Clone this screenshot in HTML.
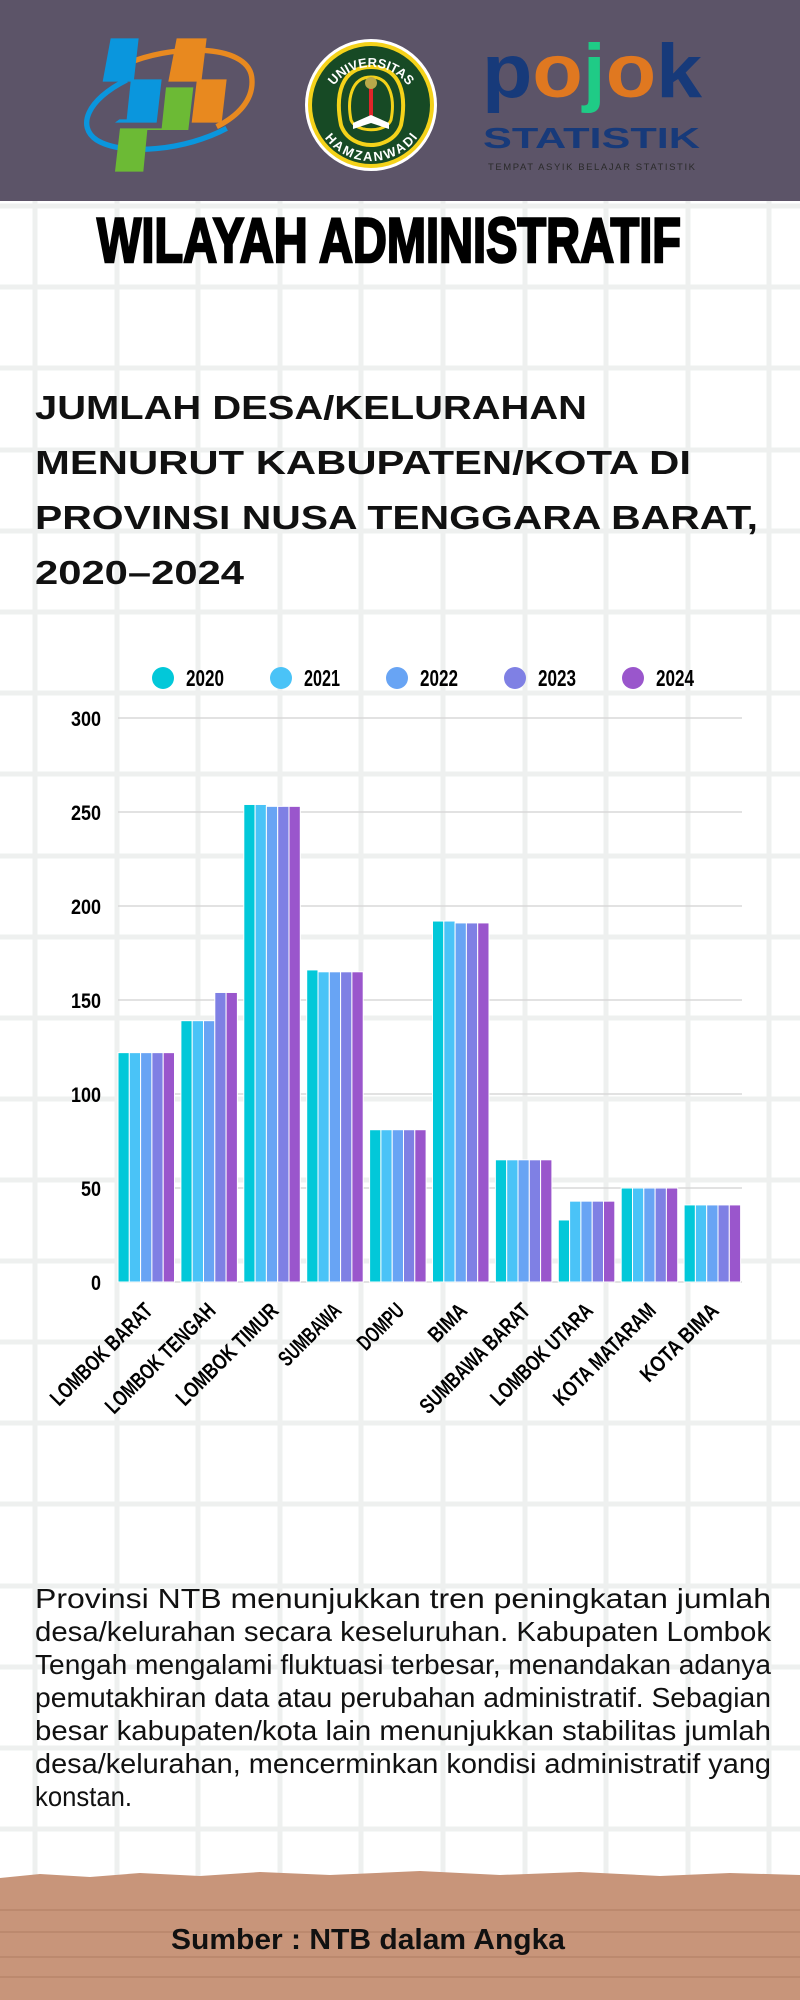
<!DOCTYPE html>
<html><head><meta charset="utf-8"><style>
html,body{margin:0;padding:0;background:#fff;}
svg{display:block;}
</style></head><body>
<svg width="800" height="2000" viewBox="0 0 800 2000" xmlns="http://www.w3.org/2000/svg">
<rect width="800" height="2000" fill="#fff"/>
<g stroke="#eef0ef" stroke-width="5">
<line x1="35" y1="200" x2="35" y2="1880"/><line x1="117" y1="200" x2="117" y2="1880"/><line x1="198" y1="200" x2="198" y2="1880"/><line x1="280" y1="200" x2="280" y2="1880"/><line x1="361" y1="200" x2="361" y2="1880"/><line x1="443" y1="200" x2="443" y2="1880"/><line x1="525" y1="200" x2="525" y2="1880"/><line x1="606" y1="200" x2="606" y2="1880"/><line x1="688" y1="200" x2="688" y2="1880"/><line x1="769" y1="200" x2="769" y2="1880"/>
<line x1="0" y1="206" x2="800" y2="206"/><line x1="0" y1="287" x2="800" y2="287"/><line x1="0" y1="368" x2="800" y2="368"/><line x1="0" y1="450" x2="800" y2="450"/><line x1="0" y1="531" x2="800" y2="531"/><line x1="0" y1="612" x2="800" y2="612"/><line x1="0" y1="693" x2="800" y2="693"/><line x1="0" y1="774" x2="800" y2="774"/><line x1="0" y1="856" x2="800" y2="856"/><line x1="0" y1="937" x2="800" y2="937"/><line x1="0" y1="1018" x2="800" y2="1018"/><line x1="0" y1="1099" x2="800" y2="1099"/><line x1="0" y1="1180" x2="800" y2="1180"/><line x1="0" y1="1261" x2="800" y2="1261"/><line x1="0" y1="1342" x2="800" y2="1342"/><line x1="0" y1="1423" x2="800" y2="1423"/><line x1="0" y1="1504" x2="800" y2="1504"/><line x1="0" y1="1586" x2="800" y2="1586"/><line x1="0" y1="1667" x2="800" y2="1667"/><line x1="0" y1="1748" x2="800" y2="1748"/><line x1="0" y1="1829" x2="800" y2="1829"/>
</g>
<rect x="0" y="0" width="800" height="201" fill="#5c5468"/>
<g transform="translate(60,30) scale(0.3333)">
  <path d="M185,108 C330,40 560,40 575,140 C585,210 530,260 470,290" fill="none" stroke="#e8891f" stroke-width="16"/>
  <path d="M200,150 C80,210 50,290 110,330 C190,380 380,360 500,295" fill="none" stroke="#0a96dd" stroke-width="16"/>
  <polygon points="152,25 236,25 222,148 305,148 290,278 165,278 178,268 200,268 212,155 128,155" fill="#0a96dd"/>
  <polygon points="350,25 440,25 425,148 500,148 485,278 395,278 410,155 325,155" fill="#e8891f"/>
  <polygon points="318,172 400,172 385,300 262,300 250,425 165,425 180,295 305,295" fill="#6cba35"/>
</g>
<g transform="translate(371,105)">
  <circle r="66" fill="#fff"/>
  <circle r="63" fill="#f4d21a"/>
  <circle r="59" fill="#174a25"/>
  <path d="M0,-38 C30,-38 36,-10 30,20 C25,35 10,40 0,40 C-10,40 -25,35 -30,20 C-36,-10 -30,-38 0,-38Z" fill="none" stroke="#f4d21a" stroke-width="4"/>
  <path d="M0,-28 C20,-28 24,-5 20,15 C15,28 -15,28 -20,15 C-24,-5 -20,-28 0,-28Z" fill="none" stroke="#f4d21a" stroke-width="3"/>
  <rect x="-2" y="-18" width="4" height="30" fill="#e0252a"/>
  <circle cx="0" cy="-22" r="6" fill="#b8a94a"/>
  <path d="M-18,18 L0,10 L18,18 L18,24 L0,18 L-18,24Z" fill="#fff"/>
  <defs><path id="arcT" d="M-46,8 A46,46 0 0 1 46,8"/><path id="arcB" d="M-48,-2 A48,48 0 0 0 48,-2"/></defs>
  <text font-family="Liberation Sans" font-weight="bold" font-size="13" fill="#fff"><textPath href="#arcT" startOffset="50%" text-anchor="middle">UNIVERSITAS</textPath></text>
  <text font-family="Liberation Sans" font-weight="bold" font-size="13" fill="#fff" dy="10"><textPath href="#arcB" startOffset="50%" text-anchor="middle">HAMZANWADI</textPath></text>
</g>
<text x="482" y="97" font-family="Liberation Sans" font-weight="bold" font-size="76" textLength="220" lengthAdjust="spacingAndGlyphs"><tspan fill="#173a7a">p</tspan><tspan fill="#e07820">o</tspan><tspan fill="#1fcb86">j</tspan><tspan fill="#e07820">o</tspan><tspan fill="#173a7a">k</tspan></text>
<text x="483" y="148" font-family="Liberation Sans" font-weight="bold" font-size="29" fill="#173a7a" textLength="217" lengthAdjust="spacingAndGlyphs">STATISTIK</text>
<text x="488" y="170" font-family="Liberation Sans" font-size="9.5" fill="#2a2a2a" textLength="207" lengthAdjust="spacing">TEMPAT ASYIK BELAJAR STATISTIK</text>
<text x="97" y="262" font-family="Liberation Sans" font-weight="bold" font-size="63" fill="#000" stroke="#000" stroke-width="2.5" textLength="584" lengthAdjust="spacingAndGlyphs">WILAYAH ADMINISTRATIF</text>
<g font-family="Liberation Sans" font-weight="bold" font-size="33" fill="#111">
<text x="35" y="419" textLength="552" lengthAdjust="spacingAndGlyphs">JUMLAH DESA/KELURAHAN</text>
<text x="35" y="474" textLength="656" lengthAdjust="spacingAndGlyphs">MENURUT KABUPATEN/KOTA DI</text>
<text x="35" y="529" textLength="723" lengthAdjust="spacingAndGlyphs">PROVINSI NUSA TENGGARA BARAT,</text>
<text x="35" y="584" textLength="209" lengthAdjust="spacingAndGlyphs">2020–2024</text>
</g>
<g font-family="Liberation Sans" font-weight="bold" font-size="23" fill="#000">
<circle cx="163" cy="678" r="11" fill="#02c8d9"/><text x="186" y="686" textLength="38" lengthAdjust="spacingAndGlyphs">2020</text>
<circle cx="281" cy="678" r="11" fill="#4ac3f7"/><text x="304" y="686" textLength="36" lengthAdjust="spacingAndGlyphs">2021</text>
<circle cx="397" cy="678" r="11" fill="#68a4f4"/><text x="420" y="686" textLength="38" lengthAdjust="spacingAndGlyphs">2022</text>
<circle cx="515" cy="678" r="11" fill="#7f80e4"/><text x="538" y="686" textLength="38" lengthAdjust="spacingAndGlyphs">2023</text>
<circle cx="633" cy="678" r="11" fill="#9a56cc"/><text x="656" y="686" textLength="38" lengthAdjust="spacingAndGlyphs">2024</text>
</g>
<g stroke="#d8d8d8" stroke-width="1.5">
<line x1="118" y1="718" x2="742" y2="718"/><line x1="118" y1="812" x2="742" y2="812"/><line x1="118" y1="906" x2="742" y2="906"/><line x1="118" y1="1000" x2="742" y2="1000"/><line x1="118" y1="1094" x2="742" y2="1094"/><line x1="118" y1="1188" x2="742" y2="1188"/><line x1="118" y1="1282" x2="742" y2="1282"/>
</g>
<g font-family="Liberation Sans" font-weight="bold" font-size="21" fill="#000">
<text x="71" y="726" textLength="30" lengthAdjust="spacingAndGlyphs">300</text><text x="71" y="820" textLength="30" lengthAdjust="spacingAndGlyphs">250</text><text x="71" y="914" textLength="30" lengthAdjust="spacingAndGlyphs">200</text><text x="71" y="1008" textLength="30" lengthAdjust="spacingAndGlyphs">150</text><text x="71" y="1102" textLength="30" lengthAdjust="spacingAndGlyphs">100</text><text x="81" y="1196" textLength="20" lengthAdjust="spacingAndGlyphs">50</text><text x="91" y="1290" textLength="10" lengthAdjust="spacingAndGlyphs">0</text>
</g>
<g id="bars" stroke="#fff" stroke-width="1"></g>
<g id="xl" font-family="Liberation Sans" font-weight="bold" font-size="22" fill="#000"></g>
<g font-family="Liberation Sans" font-size="28" fill="#111">
<text x="35" y="1608" textLength="736" lengthAdjust="spacingAndGlyphs">Provinsi NTB menunjukkan tren peningkatan jumlah</text>
<text x="35" y="1641" textLength="736" lengthAdjust="spacingAndGlyphs">desa/kelurahan secara keseluruhan. Kabupaten Lombok</text>
<text x="35" y="1674" textLength="736" lengthAdjust="spacingAndGlyphs">Tengah mengalami fluktuasi terbesar, menandakan adanya</text>
<text x="35" y="1707" textLength="736" lengthAdjust="spacingAndGlyphs">pemutakhiran data atau perubahan administratif. Sebagian</text>
<text x="35" y="1740" textLength="736" lengthAdjust="spacingAndGlyphs">besar kabupaten/kota lain menunjukkan stabilitas jumlah</text>
<text x="35" y="1773" textLength="736" lengthAdjust="spacingAndGlyphs">desa/kelurahan, mencerminkan kondisi administratif yang</text>
<text x="35" y="1806" textLength="97" lengthAdjust="spacingAndGlyphs">konstan.</text>
</g>
<path d="M0,1878 L40,1874 L90,1877 L140,1873 L200,1876 L260,1872 L330,1875 L420,1871 L500,1875 L580,1872 L660,1876 L730,1873 L800,1875 L800,2000 L0,2000Z" fill="#c8957a"/>
<g stroke="#b88469" stroke-width="2" opacity="0.7">
<line x1="0" y1="1910" x2="800" y2="1910"/><line x1="0" y1="1932" x2="800" y2="1932"/><line x1="0" y1="1957" x2="800" y2="1957"/><line x1="0" y1="1977" x2="800" y2="1977"/>
</g>
<text x="171" y="1949" font-family="Liberation Sans" font-weight="bold" font-size="29" fill="#111" textLength="394" lengthAdjust="spacingAndGlyphs">Sumber : NTB dalam Angka</text>
<script>
(function(){
var data=[[122,122,122,122,122],[139,139,139,154,154],[254,254,253,253,253],[166,165,165,165,165],[81,81,81,81,81],[192,192,191,191,191],[65,65,65,65,65],[33,43,43,43,43],[50,50,50,50,50],[41,41,41,41,41]];
var names=["LOMBOK BARAT","LOMBOK TENGAH","LOMBOK TIMUR","SUMBAWA","DOMPU","BIMA","SUMBAWA BARAT","LOMBOK UTARA","KOTA MATARAM","KOTA BIMA"];
var cols=["#02c8d9","#4ac3f7","#68a4f4","#7f80e4","#9a56cc"];
var ns="http://www.w3.org/2000/svg",g=document.getElementById("bars"),xl=document.getElementById("xl");
for(var i=0;i<10;i++){var x0=118+i*62.9;
 for(var j=0;j<5;j++){var v=data[i][j],h=v*1.88;var r=document.createElementNS(ns,"rect");
  r.setAttribute("x",x0+j*11.3);r.setAttribute("y",1282-h);r.setAttribute("width",11.3);r.setAttribute("height",h);r.setAttribute("fill",cols[j]);g.appendChild(r);}
 var L=names[i].length*11.2;
 var cx=x0+36,cy=1312;var t=document.createElementNS(ns,"text");
 t.setAttribute("x",cx-L);t.setAttribute("y",cy);t.setAttribute("textLength",L);t.setAttribute("lengthAdjust","spacingAndGlyphs");
 t.setAttribute("transform","rotate(-45 "+cx+" "+cy+")");t.textContent=names[i];xl.appendChild(t);}
})();
</script>
</svg>
</body></html>
